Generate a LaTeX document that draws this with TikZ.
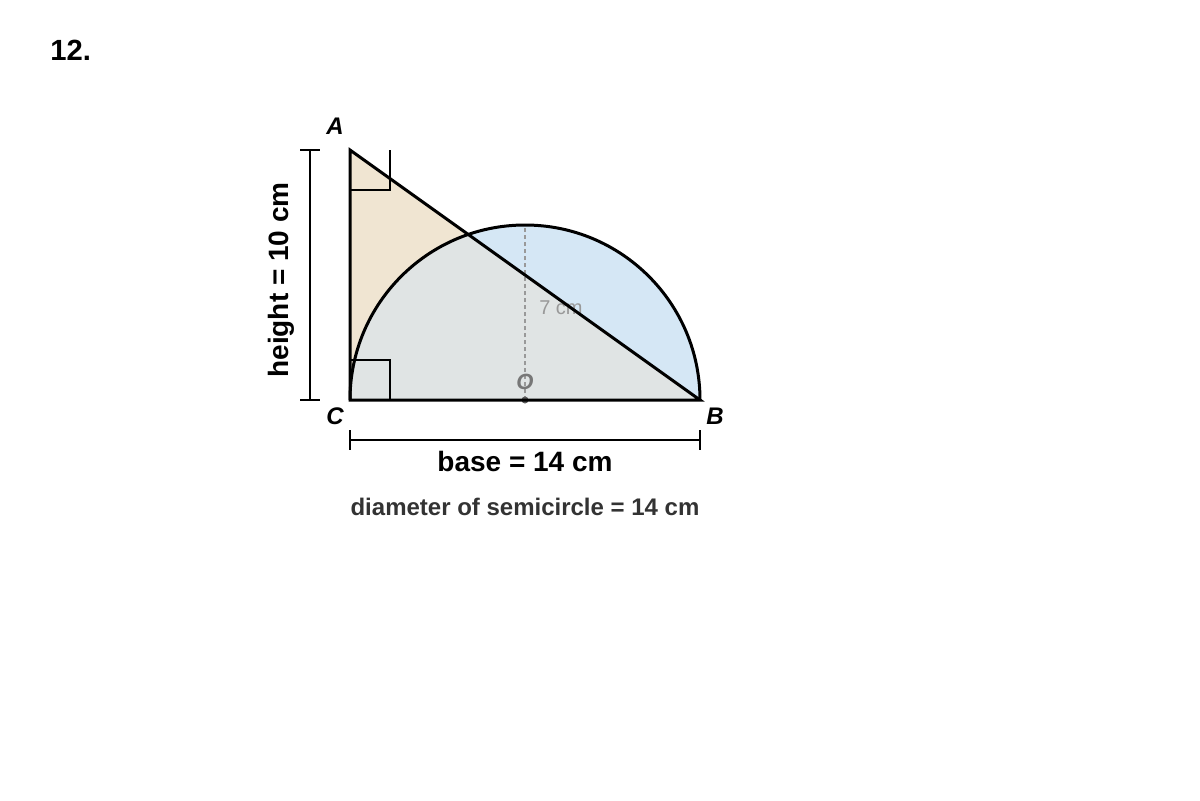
\documentclass[tikz,border=0pt]{standalone}
\usepackage{fontspec}
\setmainfont{Liberation Sans}
\definecolor{beige}{HTML}{F0E5D2}
\definecolor{lblue}{HTML}{D5E7F5}
\definecolor{overlap}{HTML}{E0E4E4}
\definecolor{dgray}{HTML}{333333}
\definecolor{mgray}{HTML}{777777}
\definecolor{lgray}{HTML}{999999}
\begin{document}
\begin{tikzpicture}[x=0.5pt,y=-0.5pt,
  edge/.style={line width=1.5pt,line join=miter},
  rightmark/.style={line width=1pt},
  dimline/.style={line width=1pt},
  vlabel/.style={font=\fontsize{12}{14}\selectfont\bfseries\itshape},
  biglabel/.style={font=\fontsize{14}{16}\selectfont\bfseries}]
\useasboundingbox (0,0) rectangle (1200,800);
\coordinate (A) at (350,150);
\coordinate (C) at (350,400);
\coordinate (B) at (700,400);
\coordinate (O) at (525,400);
\coordinate (T) at (525,225);
% fills
\fill[beige] (A) -- (C) -- (B) -- cycle;
\fill[lblue] (C) arc[start angle=180,end angle=360,radius=175] -- cycle;
\begin{scope}
\clip (A) -- (C) -- (B) -- cycle;
\fill[overlap] (C) arc[start angle=180,end angle=360,radius=175] -- cycle;
\end{scope}
% right angle marks
\draw[rightmark] (390,150) -- (390,190) -- (350,190);
\draw[rightmark] (350,360) -- (390,360) -- (390,400);
% radius
\draw[lgray,dash pattern=on 2pt off 1.5pt,line width=0.6pt] (O) -- (T);
\fill[dgray!80] (O) circle[radius=3.5];
\node[lgray,font=\fontsize{10}{12}\selectfont] (r) at (561,308) {7 cm};
\node[mgray,font=\fontsize{11}{13}\selectfont\bfseries\itshape] (o) at (525,382) {O};
% outlines
\draw[edge] (C) arc[start angle=180,end angle=360,radius=175];
\draw[edge] (A) -- (C) -- (B) -- cycle;
% vertex labels
\node[vlabel] (la) at (335,126) {A};
\node[vlabel] (lc) at (335,416) {C};
\node[vlabel] (lb) at (715,416) {B};
% dimension lines
\coordinate (h1) at (310,150);
\coordinate (h2) at (310,400);
\draw[dimline] (h1) -- (h2);
\draw[dimline] (300,150) -- (320,150);
\draw[dimline] (300,400) -- (320,400);
\coordinate (b1) at (350,440);
\coordinate (b2) at (700,440);
\draw[dimline] (b1) -- (b2);
\draw[dimline] (350,430) -- (350,450);
\draw[dimline] (700,430) -- (700,450);
\node[biglabel,rotate=90] (ht) at (281,280) {height = 10 cm};
\node[biglabel] (bt) at (525,461) {base = 14 cm};
\node[dgray,font=\fontsize{12}{14}\selectfont\bfseries] (dt) at (525,507) {diameter of semicircle = 14 cm};
\node[font=\fontsize{14.6}{16}\selectfont\bfseries,anchor=west,inner sep=0pt] (num) at (50,50) {12.};
\end{tikzpicture}
\end{document}
